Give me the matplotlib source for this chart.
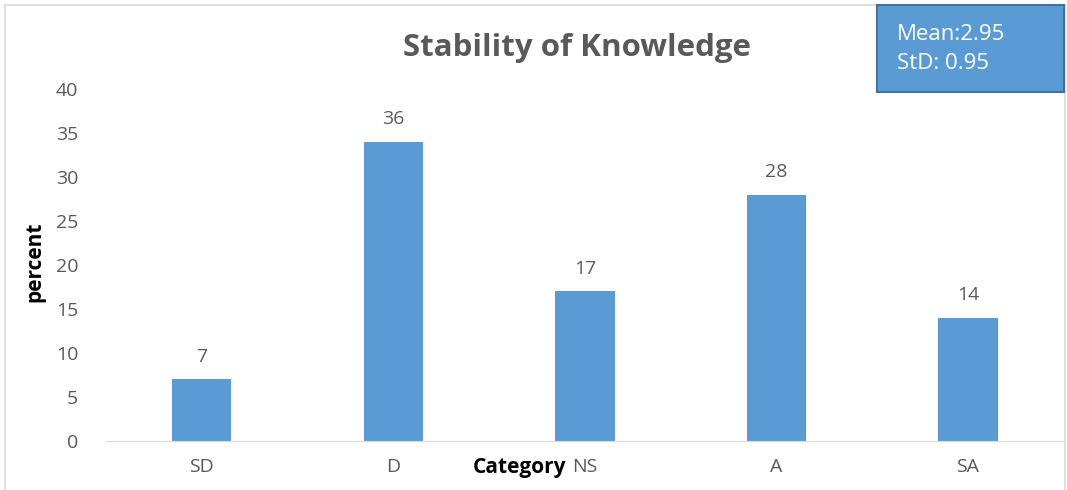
import matplotlib
matplotlib.use("Agg")
import matplotlib.pyplot as plt
from matplotlib.patches import Rectangle

categories = ["SD", "D", "NS", "A", "SA"]
bar_heights = [7, 34, 17, 28, 14]
bar_labels = ["7", "36", "17", "28", "14"]
yticks = [0, 5, 10, 15, 20, 25, 30, 35, 40]
title = "Stability of Knowledge"
stats_text = "Mean:2.95\nStD: 0.95"

BLUE = "#5B9BD5"
GREY = "#595959"
plt.rcParams["font.family"] = ["Open Sans", "DejaVu Sans"]

fig = plt.figure(figsize=(10.67, 4.9), dpi=100)
ax = fig.add_axes([0.0993, 0.1, 0.8977, 0.7184])

x = range(len(categories))
ax.bar(x, bar_heights, width=0.31, color=BLUE, zorder=2)
for xi, h, lab in zip(x, bar_heights, bar_labels):
    ax.annotate(lab, (xi, h), xytext=(0, 10), textcoords="offset points",
                ha="center", va="bottom", fontsize=14, color=GREY)

ax.set_xlim(-0.5, len(categories) - 0.5)
ax.set_ylim(0, 40)
ax.set_yticks(yticks)
ax.set_xticks(list(x))
ax.set_xticklabels(categories)
ax.tick_params(axis="both", length=0, labelsize=14, colors=GREY)
ax.tick_params(axis="x", pad=12)
ax.tick_params(axis="y", pad=20)
for s in ["top", "right", "left"]:
    ax.spines[s].set_visible(False)
ax.spines["bottom"].set_color("#D9D9D9")

fig.text(0.541, 0.902, title, ha="center", va="center", fontsize=22.5,
         fontweight="bold", color=GREY)
fig.text(0.033, 0.465, "percent", rotation=90, ha="center", va="center",
         fontsize=15, fontweight="bold", color="black")
fig.text(0.487, 0.045, "Category", ha="center", va="center",
         fontsize=15, fontweight="bold", color="black")

# chart-area border
fig.patches.append(Rectangle((5 / 1067, -0.05), 1060 / 1067, 1.05 - 5 / 490,
                             transform=fig.transFigure, fill=False,
                             edgecolor="#D9D9D9", linewidth=1.2))
# stats box
fig.patches.append(Rectangle((877 / 1067, 1 - 92 / 490), 187 / 1067, 87 / 490,
                             transform=fig.transFigure, facecolor=BLUE,
                             edgecolor="#41719C", linewidth=1.5, zorder=5))
fig.text(897 / 1067, 1 - 49 / 490, stats_text, ha="left", va="center",
         fontsize=16, color="white", linespacing=1.55, zorder=6)

fig.savefig("out.png", dpi=100)
